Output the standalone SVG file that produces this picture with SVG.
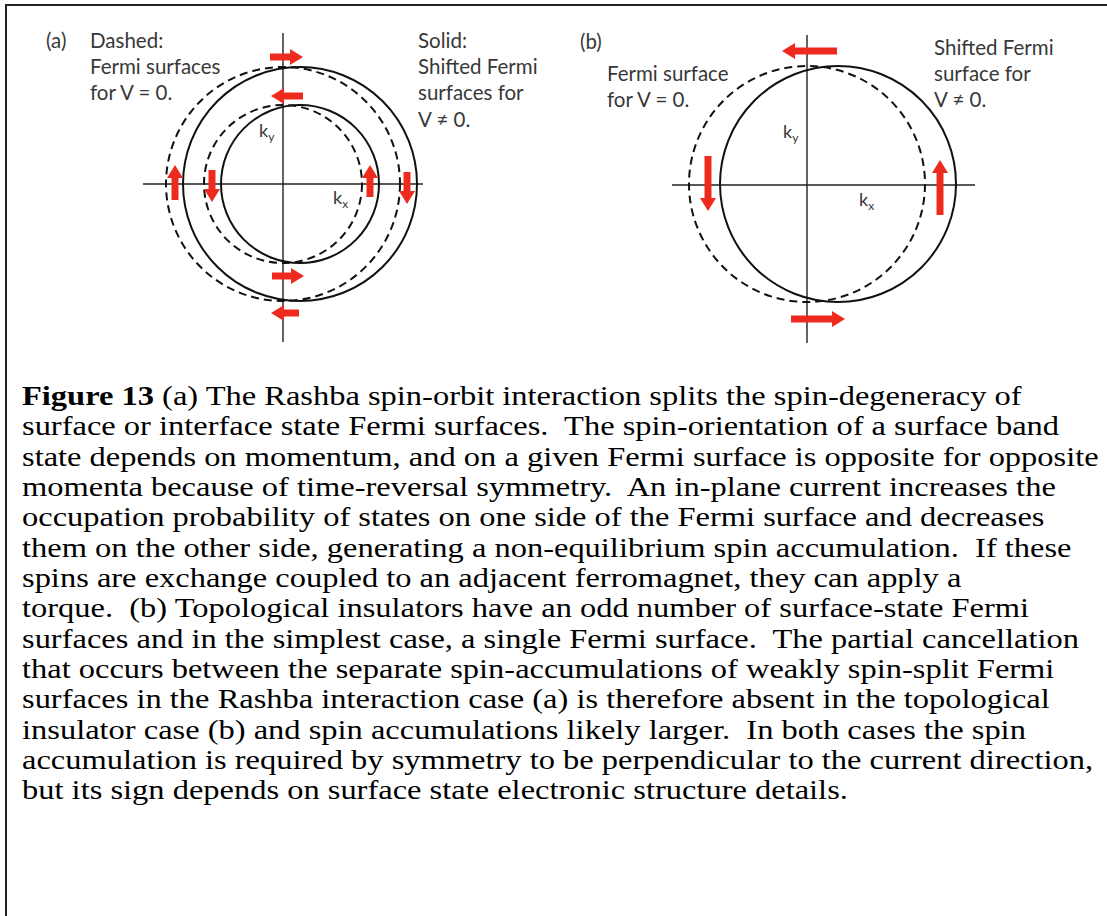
<svg xmlns="http://www.w3.org/2000/svg" width="1107" height="916" viewBox="0 0 1107 916">
<style>
.lbl{font-family:Lato,"Open Sans",sans-serif;font-size:20.5px;fill:#383838}
.k{font-family:Lato,"Open Sans",sans-serif;font-size:18px;fill:#383838}
.sub{font-size:12px}
.cap{font-family:"Liberation Serif","Times New Roman",serif;font-size:28px;fill:#000;white-space:pre}
.axis{stroke:#222;stroke-width:1.4;fill:none}
.solid{stroke:#111;stroke-width:2;fill:none}
.dash{stroke:#111;stroke-width:2;fill:none;stroke-dasharray:8 5}
.arr{stroke:#ee2a1e;stroke-width:7;fill:none;marker-end:url(#head)}
</style>
<defs>
<marker id="head" markerUnits="userSpaceOnUse" markerWidth="14" markerHeight="18" refX="0" refY="8" orient="auto" overflow="visible">
<path d="M0,0 L13,8 L0,16 Z" fill="#ee2a1e"/>
</marker>
</defs>
<rect width="1107" height="916" fill="#fff"/>
<g id="frame">
<path d="M6,916 V5 H1107" stroke="#222" stroke-width="2" fill="none"/>
</g>

<g id="panel-a">
<line class="axis" x1="283" y1="33" x2="283" y2="342"/>
<line class="axis" x1="143" y1="184" x2="423" y2="184"/>
<circle class="dash" cx="283" cy="184" r="117"/>
<circle class="dash" cx="283" cy="184" r="79"/>
<circle class="solid" cx="300" cy="184" r="117"/>
<circle class="solid" cx="300" cy="184" r="79"/>
<text class="lbl" x="46" y="48">(a)</text>
<text class="lbl" x="90" y="48">Dashed:</text>
<text class="lbl" x="90" y="74">Fermi surfaces</text>
<text class="lbl" x="90" y="100">for V = 0.</text>
<text class="lbl" x="418" y="48">Solid:</text>
<text class="lbl" x="418" y="74">Shifted Fermi</text>
<text class="lbl" x="418" y="100">surfaces for</text>
<text class="lbl" x="418" y="127">V ≠ 0.</text>
<text class="k" x="259" y="137">k<tspan class="sub" dy="4">y</tspan></text>
<text class="k" x="333" y="204">k<tspan class="sub" dy="4">x</tspan></text>
</g>

<g id="panel-b">
<line class="axis" x1="807" y1="35" x2="807" y2="343"/>
<line class="axis" x1="672" y1="185" x2="975" y2="185"/>
<circle class="dash" cx="807" cy="184" r="118"/>
<circle class="solid" cx="838" cy="184" r="118"/>
<text class="lbl" x="580" y="49">(b)</text>
<text class="lbl" x="607" y="81">Fermi surface</text>
<text class="lbl" x="607" y="107">for V = 0.</text>
<text class="lbl" x="934" y="55">Shifted Fermi</text>
<text class="lbl" x="934" y="81">surface for</text>
<text class="lbl" x="934" y="107">V ≠ 0.</text>
<text class="k" x="783" y="138">k<tspan class="sub" dy="4">y</tspan></text>
<text class="k" x="859" y="206">k<tspan class="sub" dy="4">x</tspan></text>
</g>

<g id="connectors">
<line class="arr" x1="270" y1="57" x2="290" y2="57"/>
<line class="arr" x1="303" y1="96" x2="284" y2="96"/>
<line class="arr" x1="272" y1="276" x2="291" y2="276"/>
<line class="arr" x1="299" y1="313" x2="284" y2="313"/>
<line class="arr" x1="175" y1="200" x2="175" y2="178"/>
<line class="arr" x1="212" y1="170" x2="212" y2="189"/>
<line class="arr" x1="370" y1="197" x2="370" y2="178"/>
<line class="arr" x1="407" y1="172" x2="407" y2="191"/>
<line class="arr" x1="837" y1="51" x2="795" y2="51"/>
<line class="arr" x1="791" y1="319" x2="832" y2="319"/>
<line class="arr" x1="708" y1="156" x2="708" y2="198"/>
<line class="arr" x1="940" y1="215" x2="940" y2="173"/>
</g>

<g id="caption" xml:space="preserve" transform="translate(22,0) scale(1.16,1)">
<text class="cap" x="0" y="405"><tspan font-weight="bold">Figure 13</tspan> (a) The Rashba spin-orbit interaction splits the spin-degeneracy of</text>
<text class="cap" x="0" y="435">surface or interface state Fermi surfaces.  The spin-orientation of a surface band</text>
<text class="cap" x="0" y="466">state depends on momentum, and on a given Fermi surface is opposite for opposite</text>
<text class="cap" x="0" y="496">momenta because of time-reversal symmetry.  An in-plane current increases the</text>
<text class="cap" x="0" y="526">occupation probability of states on one side of the Fermi surface and decreases</text>
<text class="cap" x="0" y="557">them on the other side, generating a non-equilibrium spin accumulation.  If these</text>
<text class="cap" x="0" y="587">spins are exchange coupled to an adjacent ferromagnet, they can apply a</text>
<text class="cap" x="0" y="617">torque.  (b) Topological insulators have an odd number of surface-state Fermi</text>
<text class="cap" x="0" y="648">surfaces and in the simplest case, a single Fermi surface.  The partial cancellation</text>
<text class="cap" x="0" y="678">that occurs between the separate spin-accumulations of weakly spin-split Fermi</text>
<text class="cap" x="0" y="708">surfaces in the Rashba interaction case (a) is therefore absent in the topological</text>
<text class="cap" x="0" y="739">insulator case (b) and spin accumulations likely larger.  In both cases the spin</text>
<text class="cap" x="0" y="769">accumulation is required by symmetry to be perpendicular to the current direction,</text>
<text class="cap" x="0" y="799">but its sign depends on surface state electronic structure details.</text>
</g>
</svg>
